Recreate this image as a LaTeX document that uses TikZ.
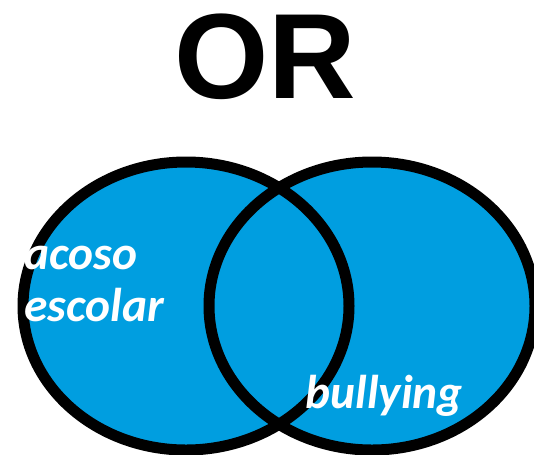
\documentclass[tikz,border=0pt]{standalone}
\usepackage{fontspec}
\setmainfont{Liberation Sans}
\newfontfamily\etichetta{Carlito}
\definecolor{vennblu}{RGB}{0,158,224}
\tikzset{
  insieme/.style={fill=vennblu},
  bordo/.style={draw=black,line width=0.22cm},
  etic/.style={white,inner sep=0pt,font=\etichetta\bfseries\itshape\fontsize{27}{32}\selectfont}
}
\begin{document}
\begin{tikzpicture}[x=0.02cm,y=-0.02cm]
        \useasboundingbox (0,0) rectangle (534,454);
        %scrivo titolo
        \node[inner sep=0pt,anchor=base,font=\bfseries\fontsize{69}{72}\selectfont] (titolo) at (265,98) {OR};

        %riempio i due insiemi
        \fill[insieme] (186,306) ellipse [x radius=163,y radius=144];
        \fill[insieme] (372,306) ellipse [x radius=163,y radius=144];

        %disegno i bordi
        \draw[bordo] (186,306) ellipse [x radius=163,y radius=144];
        \draw[bordo] (372,306) ellipse [x radius=163,y radius=144];

        %etichette degli insiemi
        \node[etic,anchor=base west] (acoso) at (24,269) {acoso};
        \node[etic,anchor=base west] (escolar) at (24,321) {escolar};
        \node[etic,anchor=base west] (bullying) at (305,408) {bullying};
\end{tikzpicture}
\end{document}
